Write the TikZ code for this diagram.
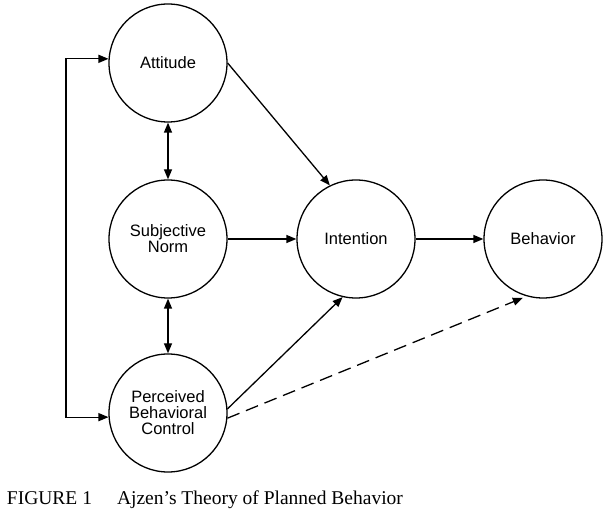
\documentclass[tikz,border=0pt]{standalone}
\usepackage{fontspec}
\setmainfont{Liberation Serif}
\newfontfamily\diagfont{Liberation Sans}
\usetikzlibrary{positioning,arrows.meta}

\begin{document}
\begin{tikzpicture}[x=1pt, y=1pt, node distance={187pt}, line width=1.3pt,
        >={Triangle[length=10pt,width=8pt]},
        main/.style = {draw, circle, minimum size=118pt, inner sep=0pt, align=center,
            font=\diagfont\fontsize{16.5}{16}\selectfont}]
            \useasboundingbox (0,0) rectangle (604,513);
            \node[main] (2) at (168,274)                   {Subjective\\Norm};
            \node[main] (1) [above of=2, node distance=176pt] {Attitude};
            \node[main] (3) [below of=2, node distance=174pt] {Perceived\\Behavioral\\Control};
            \node[main] (4) [right of=2, node distance=188pt] {Intention};
            \node[main] (5) [right of=4]                   {Behavior};
            \coordinate (6) at (66,274);

            \draw[<->] (1) to (2);
            \draw[<->] (2) to (3);
            \draw[<->] (1.176) -| (6) |- (3.184);
            \draw[->] (1.east) to (4.116);
            \draw[->] (2) to (4);
            \draw[->] (3.4) to (4.-103);
            \draw[->] (4) to (5);
            \draw[->, dash pattern=on 13pt off 7pt, shorten >=4pt] (3.-5) to (5.-106);

            \node[anchor=base west, font=\fontsize{19.5}{22}\selectfont] (7) at (3,8)
                {FIGURE 1\hspace{25pt}Ajzen’s Theory of Planned Behavior};
        \end{tikzpicture}
\end{document}
